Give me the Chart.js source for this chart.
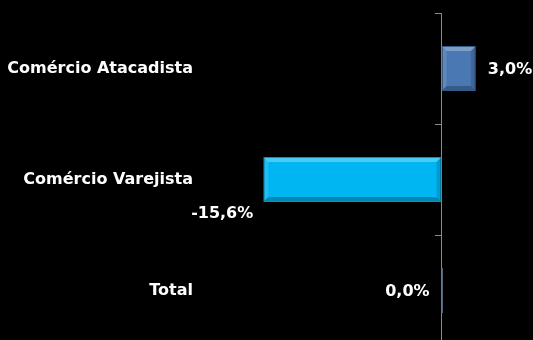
<!DOCTYPE html>
<html>
<head>
<meta charset="utf-8">
<script src="https://cdn.jsdelivr.net/npm/chart.js@4/dist/chart.umd.min.js"></script>
<style>
  html, body { margin: 0; padding: 0; background: #000; overflow: hidden; }
  #wrap { position: relative; width: 533px; height: 346px; }
</style>
</head>
<body>
<div id="wrap"><canvas id="c"></canvas></div>
<script>
// Variação por segmento do comércio (%)
const categories = ['Comércio Atacadista', 'Comércio Varejista', 'Total'];
const variation = [3.0, -15.6, 0.0];
const barColors = ['#4a78b3', '#00b6f2', '#4a78b3'];
const barBorders = ['#345a8a', '#0a90c4', '#5f7898'];

const LABEL_FONT = { family: "'DejaVu Sans', sans-serif", size: 16, weight: 'bold' };
const fmt = v => v.toFixed(1).replace('.', ',') + '%';

// Bevel highlight / shade over each bar
const bevel = {
  id: 'bevel',
  afterDatasetsDraw(chart) {
    const ctx = chart.ctx;
    chart.getDatasetMeta(0).data.forEach(el => {
      const l = Math.min(el.x, el.base), r = Math.max(el.x, el.base);
      const t = el.y - el.height / 2, b = el.y + el.height / 2;
      if (r - l < 2) return;
      const d = 5;
      ctx.save();
      ctx.fillStyle = 'rgba(255,255,255,0.28)';
      ctx.beginPath();
      ctx.moveTo(l + 1, t + 1); ctx.lineTo(r - 1, t + 1); ctx.lineTo(r - d, t + d); ctx.lineTo(l + d, t + d);
      ctx.closePath(); ctx.fill();
      ctx.fillStyle = 'rgba(255,255,255,0.12)';
      ctx.beginPath();
      ctx.moveTo(l + 1, t + 1); ctx.lineTo(l + d, t + d); ctx.lineTo(l + d, b - d); ctx.lineTo(l + 1, b - 1);
      ctx.closePath(); ctx.fill();
      ctx.fillStyle = 'rgba(0,0,0,0.14)';
      ctx.beginPath();
      ctx.moveTo(r - 1, t + 1); ctx.lineTo(r - d, t + d); ctx.lineTo(r - d, b - d); ctx.lineTo(r - 1, b - 1);
      ctx.closePath(); ctx.fill();
      ctx.fillStyle = 'rgba(0,0,0,0.25)';
      ctx.beginPath();
      ctx.moveTo(l + 1, b - 1); ctx.lineTo(r - 1, b - 1); ctx.lineTo(r - d, b - d); ctx.lineTo(l + d, b - d);
      ctx.closePath(); ctx.fill();
      ctx.restore();
    });
  }
};

// Zero-length bars still show their outline as a thin line
const zeroBars = {
  id: 'zeroBars',
  afterDatasetsDraw(chart) {
    const ctx = chart.ctx;
    const ds = chart.data.datasets[0];
    chart.getDatasetMeta(0).data.forEach((el, i) => {
      if (ds.data[i] !== 0) return;
      ctx.save();
      ctx.strokeStyle = barBorders[i];
      ctx.lineWidth = 1.5;
      ctx.beginPath();
      ctx.moveTo(el.x + 0.5, el.y - el.height / 2);
      ctx.lineTo(el.x + 0.5, el.y + el.height / 2);
      ctx.stroke();
      ctx.restore();
    });
  }
};

// Value labels beside each bar
const valueLabels = {
  id: 'valueLabels',
  afterDatasetsDraw(chart, args, opts) {
    const ctx = chart.ctx;
    const ds = chart.data.datasets[0];
    ctx.save();
    ctx.font = `${LABEL_FONT.weight} ${LABEL_FONT.size}px ${LABEL_FONT.family}`;
    ctx.fillStyle = '#ffffff';
    ctx.textBaseline = 'middle';
    chart.getDatasetMeta(0).data.forEach((el, i) => {
      const v = ds.data[i];
      const off = opts.offsets[i];
      ctx.textAlign = v > 0 ? 'left' : 'right';
      ctx.fillText(fmt(v), el.x + off.dx, el.y + off.dy);
    });
    ctx.restore();
  }
};

new Chart(document.getElementById('c'), {
  type: 'bar',
  data: {
    labels: categories,
    datasets: [{
      data: variation,
      backgroundColor: barColors,
      borderColor: barBorders,
      borderWidth: 1,
      borderSkipped: false,
      barPercentage: 0.405,
      categoryPercentage: 1.0,
      yAxisID: 'y'
    }]
  },
  options: {
    indexAxis: 'y',
    responsive: true,
    maintainAspectRatio: false,
    animation: false,
    events: [],
    layout: { padding: { top: 13, right: 0, bottom: 0, left: 0 } },
    plugins: {
      legend: { display: false },
      tooltip: { enabled: false },
      valueLabels: {
        offsets: [{ dx: 12, dy: 1.5 }, { dx: -10, dy: 34 }, { dx: -12, dy: 1.5 }]
      }
    },
    scales: {
      x: { type: 'linear', min: -20, max: 8, display: false },
      y: {
        type: 'category',
        position: { x: 0 },
        offset: true,
        grid: { display: true, drawOnChartArea: false, drawTicks: true, tickLength: 6, color: '#8a8a8a', offset: true },
        border: { display: true, color: '#8a8a8a', width: 1 },
        ticks: { display: false, padding: 0 },
        afterFit(scale) { scale.paddingTop = 0; scale.paddingBottom = 0; }
      },
      yl: {
        type: 'category',
        labels: categories,
        position: 'left',
        offset: true,
        grid: { display: false, drawTicks: false },
        border: { display: false },
        ticks: { color: '#ffffff', font: LABEL_FONT, padding: 20 },
        afterFit(scale) {
          scale.width = 213;
          scale.paddingTop = 0;
          scale.paddingBottom = 0;
        }
      }
    }
  },
  plugins: [bevel, zeroBars, valueLabels]
});
</script>
</body>
</html>
